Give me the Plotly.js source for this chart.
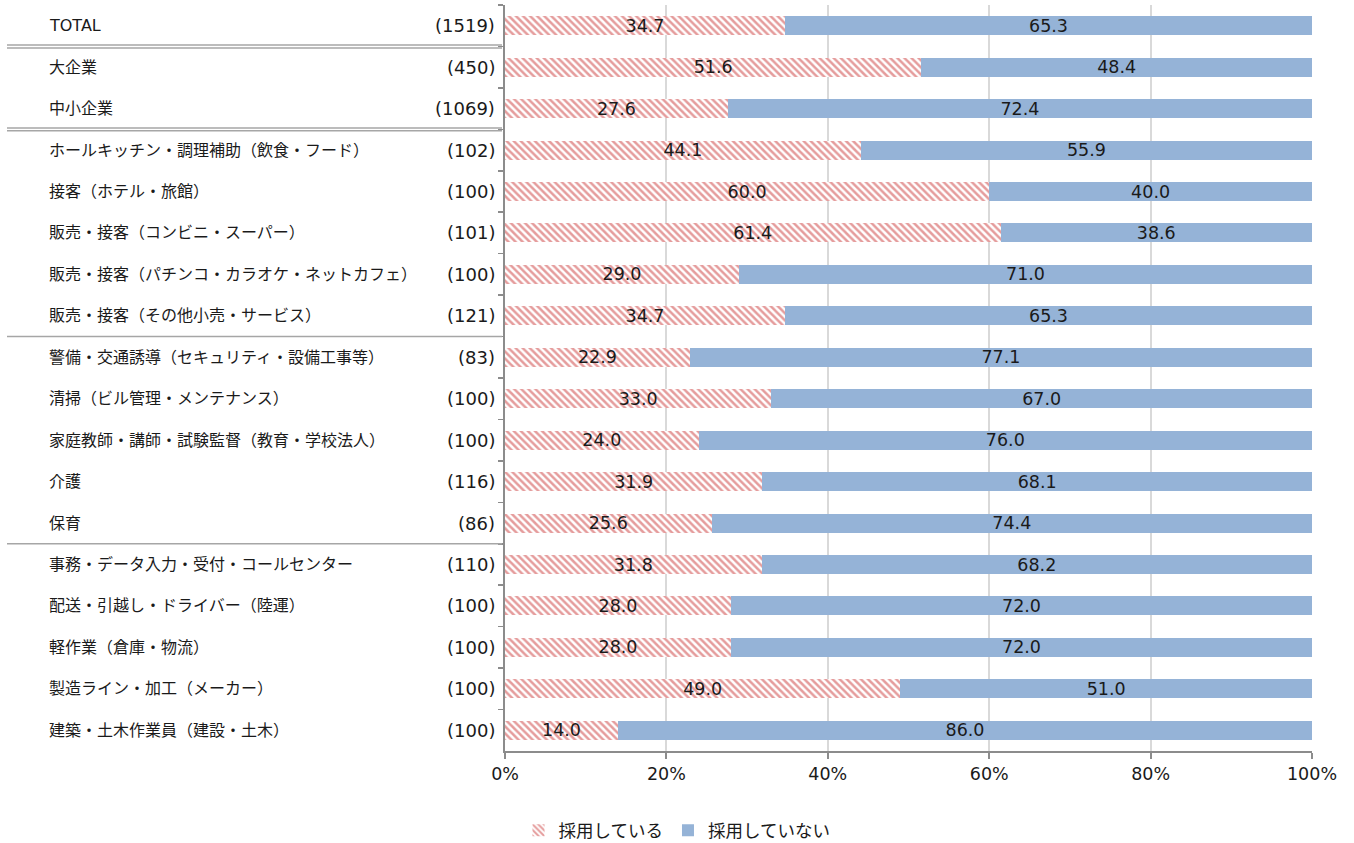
<!DOCTYPE html>
<html><head><meta charset="utf-8">
<script src="https://cdn.plot.ly/plotly-3.0.1.min.js"></script>
<style>html,body{margin:0;padding:0;background:#fff}#chart{width:1354px;height:843px}</style>
</head><body><div id="chart"></div>
<script>
var categories = ["TOTAL","大企業","中小企業","ホールキッチン・調理補助（飲食・フード）","接客（ホテル・旅館）","販売・接客（コンビニ・スーパー）","販売・接客（パチンコ・カラオケ・ネットカフェ）","販売・接客（その他小売・サービス）","警備・交通誘導（セキュリティ・設備工事等）","清掃（ビル管理・メンテナンス）","家庭教師・講師・試験監督（教育・学校法人）","介護","保育","事務・データ入力・受付・コールセンター","配送・引越し・ドライバー（陸運）","軽作業（倉庫・物流）","製造ライン・加工（メーカー）","建築・土木作業員（建設・土木）"];
var counts = ["(1519)","(450)","(1069)","(102)","(100)","(101)","(100)","(121)","(83)","(100)","(100)","(116)","(86)","(110)","(100)","(100)","(100)","(100)"];
var adopting = [34.7,51.6,27.6,44.1,60.0,61.4,29.0,34.7,22.9,33.0,24.0,31.9,25.6,31.8,28.0,28.0,49.0,14.0];
var notAdopting = [65.3,48.4,72.4,55.9,40.0,38.6,71.0,65.3,77.1,67.0,76.0,68.1,74.4,68.2,72.0,72.0,51.0,86.0];
var seriesNames = ["採用している","採用していない"];
var xTicks = [0,20,40,60,80,100];
var xTickText = ["0%","20%","40%","60%","80%","100%"];

var FONT = "DejaVu Sans, 'Noto Sans CJK JP', sans-serif";
var ids = categories.map(function(c,i){return "c"+i;});

var trace1 = {
  type:"bar", orientation:"h", name:seriesNames[0], y:ids, x:adopting,
  text:adopting.map(function(v){return v.toFixed(1);}), textposition:"inside", insidetextanchor:"middle",
  constraintext:"none", textfont:{family:FONT,size:17.5,color:"#1a1a1a"},
  marker:{color:"#ffffff", line:{width:0}, pattern:{shape:"\\", fgcolor:"#e59c9c", bgcolor:"#ffffff", size:5, solidity:0.5}},
  hoverinfo:"skip"
};
var trace2 = {
  type:"bar", orientation:"h", name:seriesNames[1], y:ids, x:notAdopting,
  text:notAdopting.map(function(v){return v.toFixed(1);}), textposition:"inside", insidetextanchor:"middle",
  constraintext:"none", textfont:{family:FONT,size:17.5,color:"#1a1a1a"},
  marker:{color:"#95b3d7", line:{width:0}},
  hoverinfo:"skip"
};

var annotations = [];
categories.forEach(function(c,i){
  annotations.push({xref:"paper", yref:"y", x:0, y:ids[i], text:c, showarrow:false, xanchor:"left", xshift:-458, yanchor:"middle", font:{family:FONT,size:16,color:"#1a1a1a"}});
  annotations.push({xref:"paper", yref:"y", x:0, y:ids[i], text:counts[i], showarrow:false, xanchor:"right", xshift:-8, yanchor:"middle", font:{family:FONT,size:18,color:"#1a1a1a"}});
});

var x0 = -498/807, x1 = -3/807;
var shapes = [];
function hline(y){
  shapes.push({type:"line", xref:"paper", yref:"y", x0:x0, x1:x1, y0:y, y1:y, line:{color:"#a6a6a6", width:1.5}});
}
[0.5, 2.5].forEach(function(y){ hline(y-0.035); hline(y+0.035); });
[7.5, 12.5].forEach(function(y){ hline(y); });

var layout = {
  width:1354, height:843,
  margin:{l:505, r:42, t:5, b:92},
  paper_bgcolor:"#ffffff", plot_bgcolor:"#ffffff",
  barmode:"stack", bargap:0.54,
  showlegend:true,
  legend:{orientation:"h", x:0.5, xanchor:"center", xref:"container", y:0.015, yref:"container", yanchor:"middle", font:{family:FONT,size:17.5,color:"#1a1a1a"}, itemwidth:30, traceorder:"normal"},
  xaxis:{range:[0,100], tickvals:xTicks, ticktext:xTickText, showgrid:true, gridcolor:"#d9d9d9", gridwidth:2,
    showline:true, linecolor:"#8c8c8c", linewidth:2, ticks:"outside", ticklen:6, tickcolor:"#8c8c8c", tickwidth:2,
    tickfont:{family:FONT,size:17.5,color:"#1a1a1a"}, zeroline:false, fixedrange:true},
  yaxis:{type:"category", autorange:"reversed", showticklabels:false, showline:true, linecolor:"#8c8c8c", linewidth:2,
    ticks:"outside", tickson:"boundaries", ticklen:5, tickcolor:"#8c8c8c", tickwidth:1.5, showgrid:false, zeroline:false},
  annotations:annotations, shapes:shapes,
  font:{family:FONT}
};
Plotly.newPlot("chart",[trace1,trace2],layout,{displayModeBar:false,staticPlot:true});
</script></body></html>
